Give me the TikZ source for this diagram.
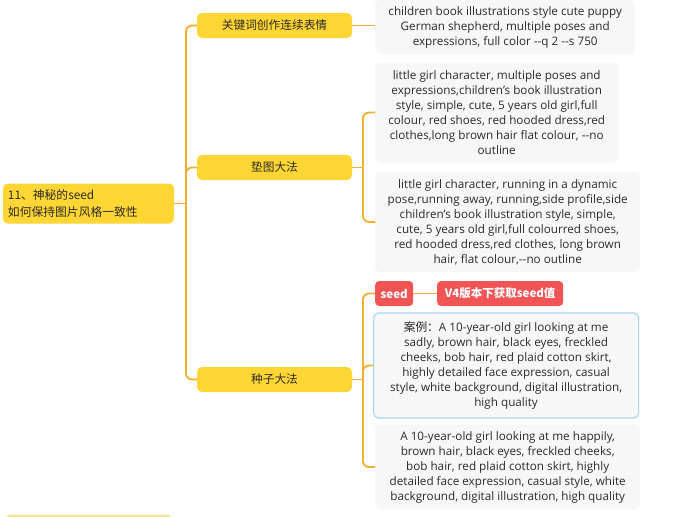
\documentclass[tikz,border=0pt]{standalone}
\usepackage{fontspec}
\setmainfont{Open Sans}
\newfontfamily\cjk{Noto Sans CJK SC}
\definecolor{ymain}{HTML}{FFD633}
\definecolor{ocol}{HTML}{F2AE2E}
\definecolor{lgray}{HTML}{F7F7F7}
\definecolor{tagred}{HTML}{F05454}
\definecolor{bborder}{HTML}{A6D8F2}
\definecolor{txt}{HTML}{2B2B2B}
\definecolor{ypale}{HTML}{F7E38A}
\begin{document}
\begin{tikzpicture}[x=1pt,y=-1pt,
  rootbox/.style={fill=ymain, rounded corners=5pt, minimum width=171pt, minimum height=40pt,
    text width=161pt, align=left, inner sep=0pt, text=txt, font=\cjk\fontsize{11.8}{17}\selectfont},
  branchbox/.style={fill=ymain, rounded corners=5pt, minimum width=155pt, minimum height=25pt,
    inner sep=0pt, text=txt, font=\cjk\fontsize{11.7}{14}\selectfont},
  leafbox/.style={fill=lgray, rounded corners=5pt, align=center, inner sep=0pt, text=txt,
    font=\fontsize{11.7}{15}\selectfont, anchor=west},
  tagbox/.style={fill=tagred, rounded corners=4pt, text=white, inner sep=0pt, minimum height=25pt,
    font=\cjk\bfseries\fontsize{11.5}{13}\selectfont, anchor=west},
  conn/.style={draw=ocol, line width=1.8pt, rounded corners=6pt}
]
\useasboundingbox (0,0) rectangle (681,517);
\fill[white] (0,0) rectangle (681,517);
\clip (0,0) rectangle (681,517);

% root
\node[rootbox] (root) at (88.5,203.5) {11、神秘的seed\\如何保持图片风格一致性};
% branches
\node[branchbox] (b1) at (274.5,25.5) {关键词创作连续表情};
\node[branchbox] (b2) at (274.5,167.5) {垫图大法};
\node[branchbox] (b3) at (274.5,379.5) {种子大法};
% partially visible next root
\node[fill=ypale, rounded corners=5pt, minimum width=167pt, minimum height=30pt, inner sep=0pt, anchor=north west] (next) at (5,514.5) {};

% leaves
\node[leafbox, minimum width=260pt, minimum height=54pt] (l1) at (375,27)
  {children book illustrations style cute puppy\\German shepherd, multiple poses and\\expressions, full color -{}-q 2 -{}-s 750};
\node[leafbox, minimum width=243pt, minimum height=100pt] (l2) at (375,112.5)
  {little girl character, multiple poses and\\expressions,children's book illustration\\style, simple, cute, 5 years old girl,full\\colour, red shoes, red hooded dress,red\\clothes,long brown hair flat colour, -{}-no\\outline};
\node[leafbox, minimum width=265pt, minimum height=100pt] (l3) at (375,222)
  {little girl character, running in a dynamic\\pose,running away, running,side profile,side\\children's book illustration style, simple,\\cute, 5 years old girl,full colourred shoes,\\red hooded dress,red clothes, long brown\\hair, flat colour,-{}-no outline};
\node[tagbox, minimum width=38pt] (seed) at (375,293.5) {seed};
\node[tagbox, minimum width=126pt] (v4) at (437,293.5) {V4版本下获取seed值};
\node[leafbox, draw=bborder, line width=1.2pt, minimum width=265pt, minimum height=105pt] (l4) at (373,365.5)
  {{\cjk 案例：}A 10-year-old girl looking at me\\sadly, brown hair, black eyes, freckled\\cheeks, bob hair, red plaid cotton skirt,\\highly detailed face expression, casual\\style, white background, digital illustration,\\high quality};
\node[leafbox, minimum width=265pt, minimum height=85pt] (l5) at (375,467)
  {A 10-year-old girl looking at me happily,\\brown hair, black eyes, freckled cheeks,\\bob hair, red plaid cotton skirt, highly\\detailed face expression, casual style, white\\background, digital illustration, high quality};

% connectors
\coordinate (t) at (186,203.5);
\draw[conn] (root.east) -- (t);
\draw[conn] (t) |- (b1.west);
\draw[conn] (t) |- (b2.west);
\draw[conn] (t) |- (b3.west);

\draw[conn] (b1.east) -- (b1.east -| l1.west);

\coordinate (s2) at (363,167.5);
\draw[conn] (b2.east) -- (s2);
\draw[conn] (s2) |- (l2.west);
\draw[conn] (s2) |- (l3.west);

\coordinate (s3) at (363,379.5);
\draw[conn] (b3.east) -- (s3);
\draw[conn] (s3) |- (seed.west);
\draw[conn] (s3) |- (l4.west);
\draw[conn] (s3) |- (l5.west);
\draw[conn] (seed.east) -- (v4.west);
\end{tikzpicture}
\end{document}
